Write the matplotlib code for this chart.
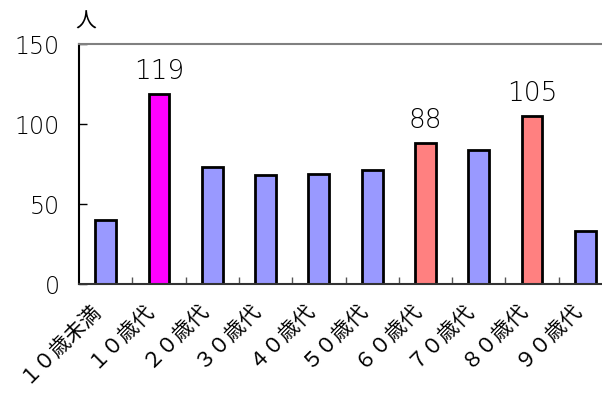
import numpy as np
import matplotlib
matplotlib.use('Agg')
import matplotlib.pyplot as plt
import matplotlib.transforms as mtransforms
from matplotlib.ticker import FixedLocator

plt.rcParams['font.family'] = ['DejaVu Sans', 'Noto Sans CJK JP']

# 年代別の人数
categories = ['１０歳未満', '１０歳代', '２０歳代', '３０歳代', '４０歳代',
              '５０歳代', '６０歳代', '７０歳代', '８０歳代', '９０歳代']
counts = [40, 119, 73, 68, 69, 71, 88, 84, 105, 33]
colors = ['#9999FF', '#FF00FF', '#9999FF', '#9999FF', '#9999FF',
          '#9999FF', '#FF8080', '#9999FF', '#FF8080', '#9999FF']
labeled = [1, 6, 8]  # 数値を表示する棒

fig = plt.figure(figsize=(6.02, 3.94), dpi=100)
ax = fig.add_axes([79/602, 1-284/394, 533/602, 240/394])

x = np.arange(len(categories))
bars = ax.bar(x, counts, width=0.39, color=colors, edgecolor='black', linewidth=2)

for i in labeled:
    ax.annotate(str(counts[i]), (x[i], counts[i]), xytext=(0, 7),
                textcoords='offset points', ha='center', va='bottom',
                fontsize=19, fontweight='light')

ax.set_xlim(-0.5, len(categories) - 0.5)
ax.set_ylim(0, 150)
ax.set_yticks([0, 50, 100, 150])
ax.tick_params(axis='y', direction='in', length=6, width=1, labelsize=17, pad=14)
for lbl in ax.get_yticklabels():
    lbl.set_fontweight('light')

ax.set_xticks(x)
ax.set_xticklabels(categories, rotation=45, ha='right', rotation_mode='anchor',
                   fontsize=15, family=['Noto Sans CJK JP', 'DejaVu Sans'])
ax.tick_params(axis='x', which='major', length=0, pad=10)
shift = mtransforms.ScaledTranslation(-16/100, 0, fig.dpi_scale_trans)
for lbl in ax.get_xticklabels():
    lbl.set_transform(lbl.get_transform() + shift)
ax.xaxis.set_minor_locator(FixedLocator(np.arange(0.5, len(categories) - 0.5, 1)))
ax.tick_params(axis='x', which='minor', direction='in', length=5, width=1, color='#555555')

ax.spines['right'].set_visible(False)
ax.spines['top'].set_color('#808080')
ax.spines['top'].set_linewidth(1.5)
ax.spines['left'].set_linewidth(1.5)
ax.spines['bottom'].set_linewidth(1.5)
ax.spines['bottom'].set_color('#333333')

fig.text(75/602, 1-22/394, '人', fontsize=15, va='center', ha='left',
         family=['Noto Sans CJK JP'])

fig.savefig('out.png', dpi=100)
